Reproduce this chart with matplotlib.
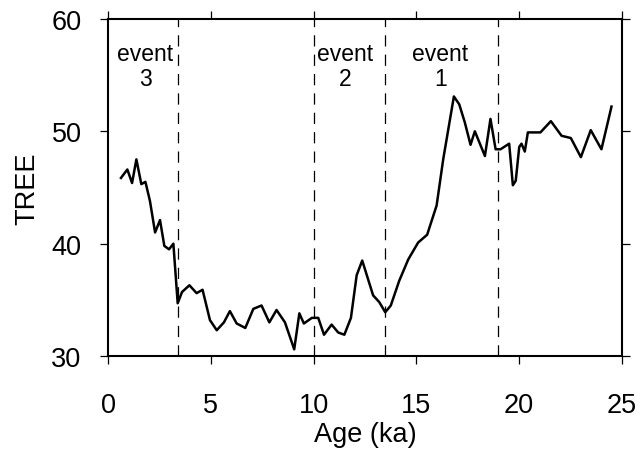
import matplotlib
matplotlib.use("Agg")
import matplotlib.pyplot as plt

plt.rcParams['font.family'] = ['Liberation Sans', 'DejaVu Sans']

age = [0.63, 0.94, 1.17, 1.38, 1.62, 1.82, 2.04, 2.29, 2.53, 2.74, 2.97, 3.18,
       3.39, 3.60, 3.96, 4.31, 4.60, 4.96, 5.29, 5.64, 5.93, 6.26, 6.68, 7.07,
       7.47, 7.85, 8.20, 8.61, 9.06, 9.31, 9.53, 9.92, 10.23, 10.51, 10.88,
       11.20, 11.50, 11.82, 12.10, 12.37, 12.90, 13.20, 13.49, 13.76, 14.17,
       14.61, 15.09, 15.53, 15.99, 16.31, 16.83, 17.09, 17.36, 17.64, 17.85,
       18.34, 18.61, 18.86, 19.10, 19.52, 19.70, 19.84, 20.01, 20.12, 20.28,
       20.43, 21.04, 21.55, 22.07, 22.52, 23.01, 23.49, 24.01, 24.50]
tree = [45.85, 46.6, 45.4, 47.5, 45.3, 45.5, 43.8, 41.0, 42.1, 39.8, 39.5, 40.0,
        34.7, 35.7, 36.3, 35.6, 35.9, 33.2, 32.3, 33.0, 34.0, 32.9, 32.5, 34.2,
        34.5, 33.0, 34.1, 33.0, 30.6, 33.8, 32.9, 33.4, 33.4, 31.9, 32.8,
        32.1, 31.9, 33.4, 37.2, 38.5, 35.4, 34.8, 33.9, 34.5, 36.7,
        38.6, 40.1, 40.8, 43.4, 47.5, 53.1, 52.4, 50.8, 48.8, 50.0,
        47.8, 51.1, 48.4, 48.4, 48.9, 45.2, 45.6, 48.6, 48.9, 48.2,
        49.9, 49.9, 50.9, 49.6, 49.4, 47.7, 50.1, 48.4, 52.2]

event_lines = [3.4, 10.0, 13.5, 19.0]
event_labels = ["event\n3", "event\n2", "event\n1"]
event_label_x = [1.8, 11.55, 16.17]

fig = plt.figure(figsize=(6.43, 4.52), dpi=100)
ax = fig.add_axes([0.168, 0.21, 0.799, 0.746])

ax.plot(age, tree, color='black', lw=1.8, zorder=3)
for xv in event_lines:
    ax.axvline(xv, color='black', lw=0.9, dashes=(9, 6.5), zorder=2)
for lx, lab in zip(event_label_x, event_labels):
    ax.text(lx, 55.8, lab, ha='center', va='center', fontsize=16.5, linespacing=1.15)

ax.set_xlim(0, 25)
ax.set_ylim(30, 60)
ax.set_xticks([0, 5, 10, 15, 20, 25])
ax.set_yticks([30, 40, 50, 60])
ax.tick_params(direction='out', length=6, width=0.9, labelsize=19.5,
               top=True, right=True, labeltop=False, labelright=False)
ax.tick_params(axis='x', pad=20)
ax.tick_params(axis='y', pad=13)
for s in ax.spines.values():
    s.set_linewidth(1.5)
ax.set_xlabel("Age (ka)", fontsize=19.5, labelpad=2)
ax.set_ylabel("TREE", fontsize=19.5, labelpad=8)

fig.savefig("out.png", dpi=100)
